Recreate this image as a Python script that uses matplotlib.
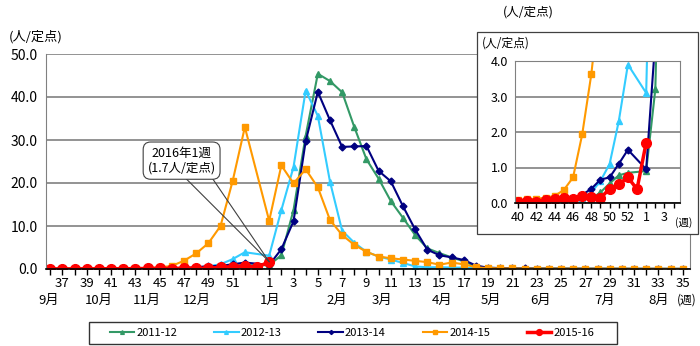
import numpy as np
import matplotlib.pyplot as plt
import matplotlib.transforms as mtransforms
from matplotlib.patches import Rectangle
from matplotlib.lines import Line2D

plt.rcParams['font.family'] = ['Noto Sans CJK JP', 'DejaVu Sans']

# surveillance weeks: 36..53 of the first year, then 1..35
weeks = list(range(36, 54)) + list(range(1, 36))
nan = np.nan

s2011_12 = [0.03, 0.02, 0.02, 0.03, 0.03, 0.04, 0.04, 0.05, 0.06, 0.06, 0.08, 0.1,
            0.12, 0.3, 0.55, 0.78, 0.85, nan,
            0.9, 3.2, 13.7, 31.0, 45.4, 43.7, 41.1, 33.0, 25.5, 21.0, 15.8, 11.9,
            7.9, 4.8, 3.7, 2.7, 1.8, 0.6, 0.3,
            0.2, 0.15, 0.12, 0.1, 0.08, 0.07, 0.06, 0.05, 0.05, 0.04, 0.04, 0.03,
            0.03, 0.03, 0.02, 0.02]
s2012_13 = [0.02, 0.02, 0.02, 0.03, 0.03, 0.03, 0.04, 0.04, 0.05, 0.06, 0.08,
            0.15, 0.3, 0.62, 1.1, 2.3, 3.9, nan,
            3.1, 13.7, 23.7, 41.5, 35.6, 20.3, 8.9, 6.1, 4.0, 2.9, 2.2, 1.4,
            0.6, 0.4, 0.4, 0.35, 0.3, 0.2, 0.12,
            0.1, 0.1, 0.08, 0.07, 0.06, 0.05, 0.05, 0.04, 0.04, 0.03, 0.03, 0.03,
            0.02, 0.02, 0.02, 0.02]
s2013_14 = [0.02, 0.02, 0.02, 0.03, 0.03, 0.04, 0.05, 0.06, 0.08, 0.1,
            0.15, 0.23, 0.4, 0.66, 0.72, 1.1, 1.5, nan,
            0.95, 4.6, 11.1, 29.7, 41.2, 34.6, 28.4, 28.5, 28.6, 22.8, 20.4, 14.6,
            9.2, 4.5, 3.2, 2.7, 2.1, 0.8, 0.3,
            0.2, 0.15, 0.12, 0.1, 0.08, 0.07, 0.06, 0.05, 0.05, 0.04, 0.04, 0.03,
            0.03, 0.03, 0.02, 0.02]
s2014_15 = [0.05, 0.05, 0.06, 0.07, 0.08, 0.1, 0.12, 0.15,
            0.2, 0.37, 0.72, 1.93, 3.63, 6.0, 10.0, 20.5, 33.0, nan,
            11.2, 24.1, 19.9, 23.2, 19.0, 11.4, 7.9, 5.6, 4.0, 2.9, 2.5, 2.2,
            1.9, 1.6, 1.0, 1.5, 1.1, 0.4, 0.2,
            0.15, 0.12, 0.1, 0.1, 0.08, 0.07, 0.07, 0.06, 0.05, 0.05, 0.05, 0.04,
            0.04, 0.04, 0.03, 0.03]
s2015_16 = [0.02, 0.02, 0.02, 0.03, 0.03, 0.07, 0.04, 0.09, 0.12, 0.14, 0.11,
            0.21, 0.17, 0.14, 0.40, 0.53, 0.72, 0.39, 1.7] + [nan] * 34

season_names = ['2011-12', '2012-13', '2013-14', '2014-15', '2015-16']
season_values = [s2011_12, s2012_13, s2013_14, s2014_15, s2015_16]
season_styles = [
    dict(color='#339966', marker='^', markersize=4.5, lw=1.5),
    dict(color='#33CCFF', marker='^', markersize=4.5, lw=1.5),
    dict(color='#000080', marker='D', markersize=3.5, lw=1.5),
    dict(color='#FF9900', marker='s', markersize=4.5, lw=1.5),
    dict(color='#FF0000', marker='o', markersize=7, lw=2.5),
]

month_names = ['9月', '10月', '11月', '12月', '1月', '2月', '3月', '4月',
               '5月', '6月', '7月', '8月']
month_pos = [-0.1, 4.0, 7.95, 12.05, 18.05, 23.6, 27.3, 32.2, 36.2, 40.3, 45.6, 50.0]

inset_weeks = [40, 42, 44, 46, 48, 50, 52, 1, 3]

x = np.arange(len(weeks))
grid_col = '#808080'


def draw_series(ax):
    for vals, st in zip(season_values, season_styles):
        y = np.array(vals, dtype=float)
        m = ~np.isnan(y)
        ax.plot(x[m], y[m], clip_on=True, **st)


fig = plt.figure(figsize=(7.0, 3.46), dpi=100)

# main chart
ax = fig.add_axes([46 / 700, 1 - 269 / 346, 644 / 700, 215 / 346])
draw_series(ax)
ax.set_xlim(-0.35, 52.6)
ax.set_ylim(0, 50)
ax.set_yticks(np.arange(0, 51, 10))
ax.set_yticklabels([f'{v:.1f}' for v in np.arange(0, 51, 10)], fontsize=10)
ax.yaxis.grid(True, color=grid_col, lw=1.2)
ax.set_axisbelow(True)
ax.tick_params(axis='y', length=0, pad=6)

major = [i for i, w in enumerate(weeks) if w % 2 == 1 and w != 53]
ax.set_xticks(major)
ax.set_xticklabels([str(weeks[i]) for i in major], fontsize=9.5)
ax.set_xticks(x, minor=True)
ax.tick_params(axis='x', which='both', direction='out', length=4, width=1, pad=2)
for s in ['left', 'right', 'top']:
    ax.spines[s].set_color(grid_col)
ax.spines['top'].set_visible(False)
ax.spines['bottom'].set_linewidth(1.2)

trans = mtransforms.blended_transform_factory(ax.transData, ax.transAxes)
for name, pos in zip(month_names, month_pos):
    ax.text(pos, -0.145, name, transform=trans, ha='center', va='center', fontsize=9.5)
ax.text(52.3, -0.145, '(週)', transform=trans, ha='center', va='center', fontsize=8.5)

fig.text(36 / 700, 1 - 37 / 346, '(人/定点)', ha='center', va='center', fontsize=9.5)

# callout for the latest week
i_last = weeks.index(1)
v_last = s2015_16[i_last]
for bx in (11.1, 13.3):
    ax.plot([bx, i_last], [21.2, v_last], color='#404040', lw=0.8, zorder=4)
ax.text(10.8, 25.2, f'2016年1週\n({v_last}人/定点)', ha='center', va='center',
        fontsize=9, linespacing=1.25, zorder=5,
        bbox=dict(boxstyle='round,pad=0.35,rounding_size=0.6', fc='white',
                  ec='#404040', lw=0.8))

# inset with the early-season detail
fig.patches.append(Rectangle((477 / 700, 1 - 234 / 346), 221 / 700, 202 / 346,
                             transform=fig.transFigure, fc='white', ec='#404040',
                             lw=0.9, zorder=1))
ins = fig.add_axes([515 / 700, 1 - 203 / 346, 165 / 700, 142 / 346], zorder=2)
draw_series(ins)
ins.set_xlim(3.65, 21.7)
ins.set_ylim(0, 4)
ins.set_yticks(np.arange(0, 4.1, 1))
ins.set_yticklabels([f'{v:.1f}' for v in np.arange(0, 4.1, 1)], fontsize=9)
ins.yaxis.grid(True, color=grid_col, lw=1.2)
ins.set_axisbelow(True)
ins.tick_params(axis='y', length=0, pad=5)
ipos = [weeks.index(w) for w in inset_weeks]
ins.set_xticks(ipos)
ins.set_xticklabels([str(w) for w in inset_weeks], fontsize=9)
ins.set_xticks(np.arange(4, 22), minor=True)
ins.tick_params(axis='x', which='both', direction='out', length=3.5, width=1, pad=2)
for s in ['left', 'right', 'top']:
    ins.spines[s].set_color(grid_col)
ins.spines['bottom'].set_linewidth(1.2)

fig.text(506 / 700, 1 - 43 / 346, '(人/定点)', ha='center', va='center', fontsize=8.5)
fig.text(684 / 700, 1 - 223 / 346, '(週)', ha='center', va='center', fontsize=7.5)
fig.text(528 / 700, 1 - 12 / 346, '(人/定点)', ha='center', va='center', fontsize=9)

# legend
handles = [Line2D([], [], color=st['color'], marker=st['marker'],
                  markersize=st['markersize'] * 0.6, lw=st['lw'])
           for st in season_styles]
fig.legend(handles, season_names, loc='center', bbox_to_anchor=(0.503, 1 - 333 / 346),
           ncol=5, frameon=False, fontsize=8, handlelength=2.2, handletextpad=0.2,
           columnspacing=3.3)
fig.patches.append(Rectangle((89 / 700, 1 - 344 / 346), 528 / 700, 22 / 346,
                             transform=fig.transFigure, fc='none', ec='#333333',
                             lw=1.0, zorder=1))

fig.savefig('out.png', dpi=100)
